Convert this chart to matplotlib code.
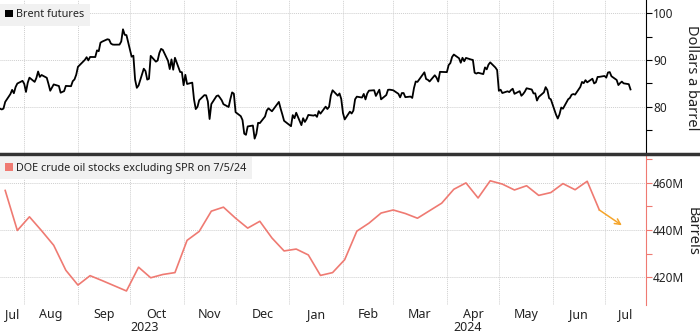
import matplotlib
matplotlib.use("Agg")
import matplotlib.pyplot as plt
from matplotlib.lines import Line2D
from matplotlib.patches import Patch
import pandas as pd

plt.rcParams['font.family'] = ['Noto Sans', 'DejaVu Sans']

# Brent front-month settlement, dollars a barrel
brent_dates = [
    "2023-07-18", "2023-07-19", "2023-07-20", "2023-07-21", "2023-07-24", "2023-07-25", "2023-07-26",
    "2023-07-27", "2023-07-28", "2023-07-31",
    "2023-08-01", "2023-08-02", "2023-08-03", "2023-08-04", "2023-08-07", "2023-08-08", "2023-08-09",
    "2023-08-10", "2023-08-11", "2023-08-14", "2023-08-15", "2023-08-16", "2023-08-17", "2023-08-18",
    "2023-08-21", "2023-08-22", "2023-08-23", "2023-08-24", "2023-08-25", "2023-08-28", "2023-08-29",
    "2023-08-30", "2023-08-31",
    "2023-09-01", "2023-09-05", "2023-09-06", "2023-09-07", "2023-09-08", "2023-09-11", "2023-09-12",
    "2023-09-13", "2023-09-14", "2023-09-15", "2023-09-18", "2023-09-19", "2023-09-20", "2023-09-21",
    "2023-09-22", "2023-09-25", "2023-09-26", "2023-09-27", "2023-09-28", "2023-09-29",
    "2023-10-02", "2023-10-03", "2023-10-04", "2023-10-05", "2023-10-06", "2023-10-09", "2023-10-10",
    "2023-10-11", "2023-10-12", "2023-10-13", "2023-10-16", "2023-10-17", "2023-10-18", "2023-10-19",
    "2023-10-20", "2023-10-23", "2023-10-24", "2023-10-25", "2023-10-26", "2023-10-27", "2023-10-30",
    "2023-10-31",
    "2023-11-01", "2023-11-02", "2023-11-03", "2023-11-06", "2023-11-07", "2023-11-08", "2023-11-09",
    "2023-11-10", "2023-11-13", "2023-11-14", "2023-11-15", "2023-11-16", "2023-11-17", "2023-11-20",
    "2023-11-21", "2023-11-22", "2023-11-23", "2023-11-24", "2023-11-27", "2023-11-28", "2023-11-29",
    "2023-11-30",
    "2023-12-01", "2023-12-04", "2023-12-05", "2023-12-06", "2023-12-07", "2023-12-08", "2023-12-11",
    "2023-12-12", "2023-12-13", "2023-12-14", "2023-12-15", "2023-12-18", "2023-12-19", "2023-12-20",
    "2023-12-21", "2023-12-22", "2023-12-26", "2023-12-27", "2023-12-28", "2023-12-29",
    "2024-01-02", "2024-01-03", "2024-01-04", "2024-01-05", "2024-01-08", "2024-01-09", "2024-01-10",
    "2024-01-11", "2024-01-12", "2024-01-15", "2024-01-16", "2024-01-17", "2024-01-18", "2024-01-19",
    "2024-01-22", "2024-01-23", "2024-01-24", "2024-01-25", "2024-01-26", "2024-01-29", "2024-01-30",
    "2024-01-31",
    "2024-02-01", "2024-02-02", "2024-02-05", "2024-02-06", "2024-02-07", "2024-02-08", "2024-02-09",
    "2024-02-12", "2024-02-13", "2024-02-14", "2024-02-15", "2024-02-16", "2024-02-19", "2024-02-20",
    "2024-02-21", "2024-02-22", "2024-02-23", "2024-02-26", "2024-02-27", "2024-02-28", "2024-02-29",
    "2024-03-01", "2024-03-04", "2024-03-05", "2024-03-06", "2024-03-07", "2024-03-08", "2024-03-11",
    "2024-03-12", "2024-03-13", "2024-03-14", "2024-03-15", "2024-03-18", "2024-03-19", "2024-03-20",
    "2024-03-21", "2024-03-22", "2024-03-25", "2024-03-26", "2024-03-27", "2024-03-28",
    "2024-04-01", "2024-04-02", "2024-04-03", "2024-04-04", "2024-04-05", "2024-04-08", "2024-04-09",
    "2024-04-10", "2024-04-11", "2024-04-12", "2024-04-15", "2024-04-16", "2024-04-17", "2024-04-18",
    "2024-04-19", "2024-04-22", "2024-04-23", "2024-04-24", "2024-04-25", "2024-04-26", "2024-04-29",
    "2024-04-30",
    "2024-05-01", "2024-05-02", "2024-05-03", "2024-05-06", "2024-05-07", "2024-05-08", "2024-05-09",
    "2024-05-10", "2024-05-13", "2024-05-14", "2024-05-15", "2024-05-16", "2024-05-17", "2024-05-20",
    "2024-05-21", "2024-05-22", "2024-05-23", "2024-05-24", "2024-05-27", "2024-05-28", "2024-05-29",
    "2024-05-30", "2024-05-31",
    "2024-06-03", "2024-06-04", "2024-06-05", "2024-06-06", "2024-06-07", "2024-06-10", "2024-06-11",
    "2024-06-12", "2024-06-13", "2024-06-14", "2024-06-17", "2024-06-18", "2024-06-19", "2024-06-20",
    "2024-06-21", "2024-06-24", "2024-06-25", "2024-06-26", "2024-06-27", "2024-06-28",
    "2024-07-01", "2024-07-02", "2024-07-03", "2024-07-04", "2024-07-05", "2024-07-08", "2024-07-09",
    "2024-07-10", "2024-07-11", "2024-07-12", "2024-07-15", "2024-07-16",
]
brent_prices = [
    79.63, 79.46, 79.64, 81.07, 82.74, 83.64, 82.92, 84.24, 84.99, 85.56,
    84.91, 83.20, 85.14, 86.24, 85.34, 86.17, 87.55, 86.40, 86.81, 86.21, 84.89, 83.45, 84.12, 84.80,
    84.46, 83.03, 83.21, 83.36, 84.48, 84.42, 85.49, 85.86, 86.86,
    88.55, 90.04, 90.60, 89.92, 90.65, 90.64, 92.06, 91.88, 93.70, 93.93, 94.43, 94.34, 93.53, 93.30,
    93.27, 93.29, 93.96, 96.55, 95.38, 95.31,
    90.71, 90.92, 85.81, 84.07, 84.58, 88.15, 87.65, 85.82, 86.00, 90.89, 89.65, 89.90, 91.50, 92.38,
    92.16, 89.83, 88.07, 90.13, 87.93, 90.48, 87.45, 87.41,
    84.63, 86.85, 84.89, 85.18, 81.61, 79.54, 80.01, 81.43, 82.52, 82.47, 81.18, 77.42, 80.61, 82.32,
    82.45, 81.96, 81.42, 80.58, 79.98, 81.68, 83.10, 82.83,
    78.88, 78.03, 77.20, 74.30, 74.05, 75.84, 76.03, 73.24, 74.26, 76.61, 76.55, 77.95, 79.23, 79.70,
    79.39, 79.07, 81.07, 79.65, 78.39, 77.04,
    75.89, 78.25, 77.59, 78.76, 76.12, 77.59, 76.80, 77.41, 78.29, 78.15, 78.29, 77.88, 79.10, 78.56,
    80.06, 79.55, 80.04, 82.43, 83.55, 82.40, 82.87, 81.71,
    78.70, 77.33, 78.99, 78.59, 79.21, 81.63, 82.19, 82.00, 82.77, 81.60, 82.86, 83.47, 83.56, 82.34,
    83.03, 83.67, 81.62, 82.53, 83.65, 83.68, 83.62,
    83.55, 82.80, 82.04, 82.96, 82.96, 82.08, 82.21, 81.92, 84.03, 85.42, 85.34, 86.89, 87.38, 85.95,
    85.78, 85.43, 86.75, 86.25, 85.41, 87.48,
    87.42, 88.92, 89.35, 90.65, 91.17, 90.38, 89.42, 90.48, 89.74, 90.45, 90.10, 90.02, 87.29, 87.11,
    87.29, 87.00, 88.42, 88.02, 89.01, 89.50, 88.40, 87.86,
    83.44, 83.67, 82.96, 83.33, 83.16, 83.58, 83.88, 82.79, 83.36, 82.38, 82.75, 83.27, 83.98, 83.71,
    82.88, 82.90, 81.36, 82.12, 83.10, 84.22, 83.60, 81.86, 81.62,
    78.36, 77.52, 78.41, 79.87, 79.62, 81.63, 81.92, 82.60, 82.75, 82.62, 84.25, 85.33, 85.07, 85.71,
    85.24, 86.01, 85.01, 85.25, 86.39, 86.41,
    86.60, 86.24, 87.34, 87.43, 86.54, 85.75, 84.66, 85.08, 85.40, 85.03, 84.85, 83.73,
]

# DOE weekly commercial crude inventories ex-SPR, millions of barrels
stock_dates = [
    "2023-07-21", "2023-07-28", "2023-08-04", "2023-08-11", "2023-08-18", "2023-08-25", "2023-09-01",
    "2023-09-08", "2023-09-15", "2023-09-22", "2023-09-29", "2023-10-06", "2023-10-13", "2023-10-20",
    "2023-10-27", "2023-11-03", "2023-11-10", "2023-11-17", "2023-11-24", "2023-12-01", "2023-12-08",
    "2023-12-15", "2023-12-22", "2023-12-29", "2024-01-05", "2024-01-12", "2024-01-19", "2024-01-26",
    "2024-02-02", "2024-02-09", "2024-02-16", "2024-02-23", "2024-03-01", "2024-03-08", "2024-03-15",
    "2024-03-22", "2024-03-29", "2024-04-05", "2024-04-12", "2024-04-19", "2024-04-26", "2024-05-03",
    "2024-05-10", "2024-05-17", "2024-05-24", "2024-05-31", "2024-06-07", "2024-06-14", "2024-06-21",
    "2024-06-28",
]
stock_levels = [
    456.8, 439.8, 445.6, 439.7, 433.5, 422.9, 416.6, 420.6, 418.5, 416.3, 414.1, 424.2, 419.7, 421.1,
    421.9, 435.6, 439.4, 448.0, 449.7, 445.0, 440.8, 443.7, 436.6, 431.1, 431.9, 429.4, 420.7, 421.9,
    427.4, 439.5, 442.9, 447.2, 448.5, 447.0, 445.0, 448.2, 451.4, 457.3, 460.0, 453.6, 460.9, 459.5,
    457.0, 458.8, 454.7, 455.9, 459.7, 457.1, 460.7, 448.5,
]

# direction of the latest reading
arrow_date = "2024-07-11"
arrow_level = 442.0

x_start = pd.Timestamp("2023-07-18")
x_end = pd.Timestamp("2024-07-25")

brent_x = pd.to_datetime(brent_dates)
stock_x = pd.to_datetime(stock_dates)

fig = plt.figure(figsize=(7.0, 3.36), dpi=100)
ax1 = fig.add_axes([0.0, 0.545, 0.923, 0.455])
ax2 = fig.add_axes([0.0, 0.092, 0.923, 0.447])

grid_kw = dict(color='#cfcfcf', linestyle=(0, (1, 1)), linewidth=0.7)
salmon = '#ef7a72'
ink = '#222222'

month_starts = pd.date_range("2023-08-01", "2024-07-01", freq="MS")

for ax in (ax1, ax2):
    ax.set_xlim(x_start, x_end)
    for s in ('top', 'left', 'bottom'):
        ax.spines[s].set_visible(False)
    ax.yaxis.tick_right()
    ax.set_xticks(month_starts)
    ax.xaxis.grid(True, **grid_kw)
    ax.yaxis.grid(True, which='major', **grid_kw)
    ax.set_axisbelow(True)
    ax.tick_params(axis='x', which='major', length=0, labelbottom=False)
    ax.tick_params(axis='y', which='both', direction='out', length=4, width=0.8,
                   labelsize=8.5, labelcolor=ink, pad=1)

# top panel: Brent
ax1.plot(brent_x, brent_prices, color='black', linewidth=1.3)
ax1.set_ylim(70.2, 102.8)
ax1.set_yticks([80, 90, 100])
ax1.set_yticks([75, 85, 95], minor=True)
ax1.spines['right'].set_color('black')
ax1.tick_params(axis='y', which='both', color='black')
ax1.legend(handles=[Patch(facecolor='black')], labels=['Brent futures'],
           loc='upper left', bbox_to_anchor=(0.0, 0.975), borderaxespad=0,
           frameon=True, facecolor='#f1f1f1', edgecolor='none', framealpha=1, fancybox=False,
           handlelength=0.7, handleheight=0.7, handletextpad=0.3, borderpad=0.5,
           fontsize=7.8, labelcolor=ink)

# bottom panel: crude stocks
ax2.plot(stock_x, stock_levels, color=salmon, linewidth=1.2)
ax2.annotate('', xy=(pd.Timestamp(arrow_date), arrow_level),
             xytext=(stock_x[-1], stock_levels[-1]),
             arrowprops=dict(arrowstyle='->', color='#f5a52a', lw=1.1,
                             shrinkA=0, shrinkB=0, mutation_scale=10))
ax2.set_ylim(408.1, 471.9)
ax2.set_yticks([420, 440, 460])
ax2.set_yticklabels(['420M', '440M', '460M'])
ax2.set_yticks([430, 450, 470], minor=True)
ax2.spines['right'].set_color(salmon)
ax2.tick_params(axis='y', which='both', color=salmon)
ax2.legend(handles=[Patch(facecolor=salmon)], labels=['DOE crude oil stocks excluding SPR on 7/5/24'],
           loc='upper left', bbox_to_anchor=(0.0, 0.985), borderaxespad=0,
           frameon=True, facecolor='#f1f1f1', edgecolor='none', framealpha=1, fancybox=False,
           handlelength=0.7, handleheight=0.7, handletextpad=0.3, borderpad=0.5,
           fontsize=7.8, labelcolor=ink)

# axis titles on the far right
fig.text(692 / 700, 1 - 78 / 336, 'Dollars a barrel', rotation=270,
         ha='center', va='center', fontsize=10.5, color=ink)
fig.text(692 / 700, 1 - 231 / 336, 'Barrels', rotation=270,
         ha='center', va='center', fontsize=10.5, color=ink)

# month labels sit in the middle of the visible part of each month
month_edges = [x_start] + list(month_starts) + [x_end]
mid_ticks = [a + (b - a) / 2 for a, b in zip(month_edges[:-1], month_edges[1:])]
ax2.set_xticks(mid_ticks, minor=True)
ax2.set_xticklabels([d.strftime('%b') for d in mid_ticks], minor=True)
ax2.tick_params(axis='x', which='minor', length=0, labelsize=9, labelcolor=ink, pad=2)

# year labels centred under each year's span
year_break = pd.Timestamp("2024-01-01")
for a, b, label in [(x_start, year_break, '2023'), (year_break, x_end, '2024')]:
    ax2.text(a + (b - a) / 2, -0.105, label, transform=ax2.get_xaxis_transform(),
             ha='center', va='top', fontsize=9, color=ink)

# heavy rule between the panels
fig.add_artist(Line2D([0, 1], [1 - 154 / 336] * 2, transform=fig.transFigure,
                      color='#333333', linewidth=2.5))

fig.savefig('out.png', dpi=100)
